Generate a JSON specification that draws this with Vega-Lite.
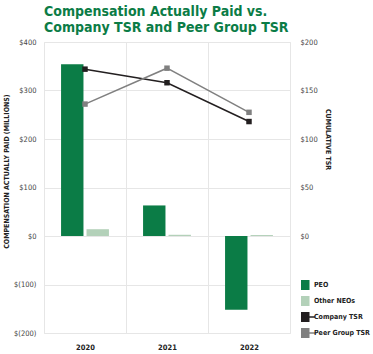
{
  "$schema": "https://vega.github.io/schema/vega-lite/v6.json",
  "autosize": {"type": "none"},
  "width": 246,
  "height": 291,
  "padding": {"left": 44, "top": 42, "right": 83, "bottom": 21},
  "background": "white",
  "title": {
    "text": ["Compensation Actually Paid vs.", "Company TSR and Peer Group TSR"],
    "anchor": "start",
    "frame": "group",
    "font": "DejaVu Sans Condensed",
    "fontSize": 14,
    "fontWeight": "bold",
    "color": "#0b7c46",
    "lineHeight": 16,
    "offset": 3
  },
  "config": {
    "view": {"stroke": "#e6e6e6", "strokeWidth": 1},
    "axis": {
      "labelFont": "DejaVu Sans Condensed",
      "titleFont": "DejaVu Sans Condensed",
      "labelColor": "#444",
      "titleColor": "#222",
      "labelFontSize": 7.5,
      "titleFontSize": 7,
      "titleFontWeight": "bold",
      "domain": false,
      "ticks": false,
      "gridColor": "#e6e6e6"
    },
    "legend": {
      "labelFont": "DejaVu Sans Condensed",
      "labelFontSize": 7,
      "labelFontWeight": "bold",
      "labelColor": "#222"
    }
  },
  "data": {
    "values": [
      {"year": "2020", "series": "PEO", "kind": "bar", "value": 354},
      {"year": "2020", "series": "Other NEOs", "kind": "bar", "value": 14},
      {"year": "2021", "series": "PEO", "kind": "bar", "value": 63},
      {"year": "2021", "series": "Other NEOs", "kind": "bar", "value": 2.5},
      {"year": "2022", "series": "PEO", "kind": "bar", "value": -152},
      {"year": "2022", "series": "Other NEOs", "kind": "bar", "value": 2},
      {"year": "2020", "series": "Company TSR", "kind": "line", "value": 172},
      {"year": "2021", "series": "Company TSR", "kind": "line", "value": 158},
      {"year": "2022", "series": "Company TSR", "kind": "line", "value": 118},
      {"year": "2020", "series": "Peer Group TSR", "kind": "line", "value": 136},
      {"year": "2021", "series": "Peer Group TSR", "kind": "line", "value": 173},
      {"year": "2022", "series": "Peer Group TSR", "kind": "line", "value": 127.5}
    ]
  },
  "encoding": {
    "x": {
      "field": "year",
      "type": "nominal",
      "scale": {"paddingInner": 0, "paddingOuter": 0},
      "axis": {
        "title": null,
        "labelAngle": 0,
        "grid": true,
        "tickBand": "extent",
        "labelFontWeight": "bold",
        "labelColor": "#222",
        "labelPadding": 10
      }
    },
    "color": {
      "field": "series",
      "type": "nominal",
      "scale": {
        "domain": ["PEO", "Other NEOs", "Company TSR", "Peer Group TSR"],
        "range": ["#0b7c46", "#b3d1b9", "#231f20", "#808080"]
      },
      "legend": {
        "title": null,
        "orient": "none",
        "legendX": 257,
        "legendY": 238,
        "symbolSize": 100,
        "labelOffset": 6,
        "rowPadding": 6,
        "clipHeight": 10,
        "labelLimit": 200,
        "encode": {
          "symbols": {
            "update": {
              "shape": {"signal": "datum.value == 'PEO' || datum.value == 'Other NEOs' ? 'square' : 'M-2.1,0H2.1M-0.85,-0.85H0.85V0.85H-0.85Z'"},
              "fill": {"scale": "color", "field": "value"},
              "stroke": {"scale": "color", "field": "value"},
              "strokeWidth": {"signal": "datum.value == 'PEO' || datum.value == 'Other NEOs' ? 0 : 1.5"},
              "opacity": {"value": 1}
            }
          }
        }
      }
    }
  },
  "layer": [
    {
      "transform": [{"filter": "datum.kind == 'bar'"}],
      "mark": {"type": "bar"},
      "encoding": {
        "xOffset": {
          "field": "series",
          "type": "nominal",
          "sort": ["PEO", "Other NEOs"],
          "scale": {"paddingInner": 0.12, "paddingOuter": 0.67}
        },
        "y": {
          "field": "value",
          "type": "quantitative",
          "scale": {"domain": [-200, 400], "nice": false},
          "axis": {
            "values": [-200, -100, 0, 100, 200, 300, 400],
            "labelExpr": "datum.value < 0 ? '$(' + (-datum.value) + ')' : '$' + datum.value",
            "title": "COMPENSATION ACTUALLY PAID (MILLIONS)",
            "titleY": 129,
            "labelPadding": 8,
            "titlePadding": 4,
            "grid": true
          }
        }
      }
    },
    {
      "transform": [{"filter": "datum.kind == 'line'"}],
      "mark": {"type": "line", "strokeWidth": 1.5, "point": {"shape": "square", "filled": true, "size": 30, "opacity": 1}},
      "encoding": {
        "y": {
          "field": "value",
          "type": "quantitative",
          "scale": {"domain": [-100, 200], "nice": false},
          "axis": {
            "orient": "right",
            "values": [0, 50, 100, 150, 200],
            "labelExpr": "'$' + datum.value",
            "title": "CUMULATIVE TSR",
            "titleY": 97,
            "labelPadding": 10,
            "titlePadding": 7,
            "grid": false
          }
        }
      }
    }
  ],
  "resolve": {"scale": {"y": "independent"}}
}
